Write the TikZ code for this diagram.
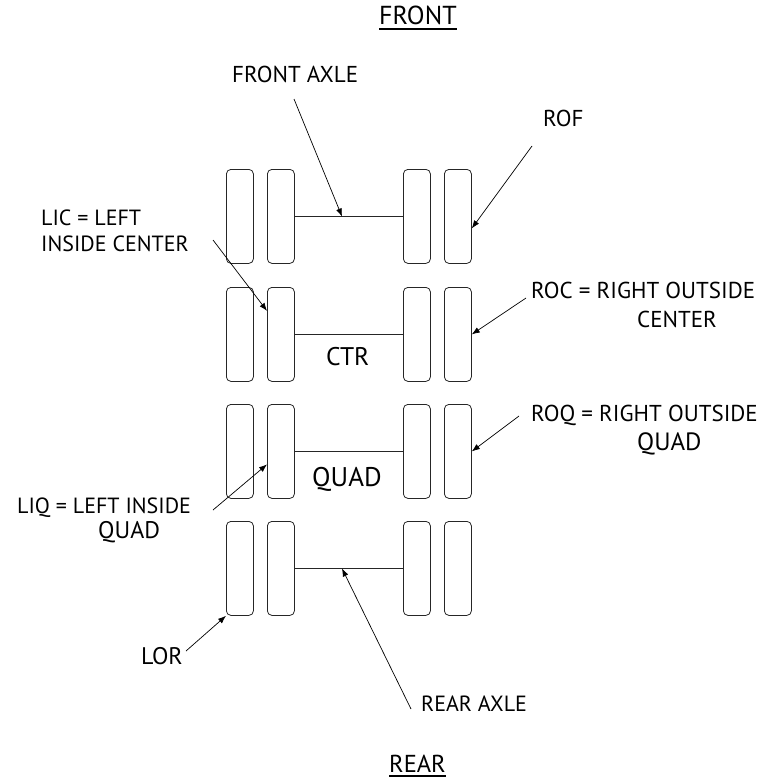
\documentclass[tikz,border=0pt]{standalone}
\usepackage{fontspec}
\setmainfont{PT Sans}
\usetikzlibrary{arrows.meta}
\newcommand\thickul[1]{\leavevmode\setbox0\hbox{#1}\rlap{\vrule width\wd0 height -3.4pt depth 5pt}\box0}
\tikzset{
  wheel/.style={draw=black!85,line width=.8pt,rounded corners=4.5pt,minimum width=27pt,minimum height=94pt,inner sep=0pt,anchor=north west},
  axle/.style={draw=black!85,line width=.8pt},
  lead/.style={draw=black,line width=.7pt,-{Latex[length=8pt,width=6pt]}},
  lbl/.style={font=\fontsize{#1}{26}\selectfont,inner sep=0pt,text=black,anchor=base west},
  lbl/.default=22.5
}
\begin{document}
\begin{tikzpicture}[x=1pt,y=-1pt]
\useasboundingbox (0,0) rectangle (760,781);
\foreach \r/\y in {a/169,b/287,c/404,d/521}{
  \foreach \c/\x in {1/226,2/267,3/403,4/444}{
    \node[wheel] (\r\c) at (\x,\y) {};
  }
  \draw[axle] (\r2.east) -- (\r3.west);
}
\node[lbl=26] (front) at (379,25) {\thickul{FRONT}};
\node[lbl=24.5] (rear) at (389,772) {\thickul{REAR}};
\node[lbl=23] (faxle) at (232,83) {FRONT AXLE};
\node[lbl=23] (rof) at (543,126) {ROF};
\node[lbl=22] (lic1) at (41,225) {LIC = LEFT};
\node[lbl=22] (lic2) at (41,251) {INSIDE CENTER};
\node[lbl=25.5] (ctr) at (326,365) {CTR};
\node[lbl=27] (quad) at (312,486) {QUAD};
\node[lbl=23] (roc1) at (531,298) {ROC = RIGHT OUTSIDE};
\node[lbl=23] (roc2) at (637,327) {CENTER};
\node[lbl=23] (roq1) at (531,421) {ROQ = RIGHT OUTSIDE};
\node[lbl=25] (roq2) at (637,450) {QUAD};
\node[lbl=22] (liq1) at (17,513) {LIQ = LEFT INSIDE};
\node[lbl=24] (liq2) at (98,538) {QUAD};
\node[lbl=24] (lor) at (141,664) {LOR};
\node[lbl=22] (raxle) at (421,711) {REAR AXLE};
\coordinate (s1) at (294,99);   \coordinate (t1) at (342,216.5);
\coordinate (s2) at (532,146);  \coordinate (t2) at ([yshift=-12pt]a4.east);
\coordinate (s3) at (213,240);  \coordinate (t3) at ([yshift=23.5pt]b2.west);
\coordinate (s4) at (526,298);  \coordinate (t4) at (b4.east);
\coordinate (s5) at (519,416);  \coordinate (t5) at (c4.east);
\coordinate (s6) at (213,510);  \coordinate (t6) at ([yshift=-13pt]c2.west);
\coordinate (s7) at (186,651);  \coordinate (t7) at (d1.south west);
\coordinate (s8) at (411,709);  \coordinate (t8) at (342,568.5);
\foreach \i in {1,...,8}{\draw[lead] (s\i) -- (t\i);}
\end{tikzpicture}
\end{document}
